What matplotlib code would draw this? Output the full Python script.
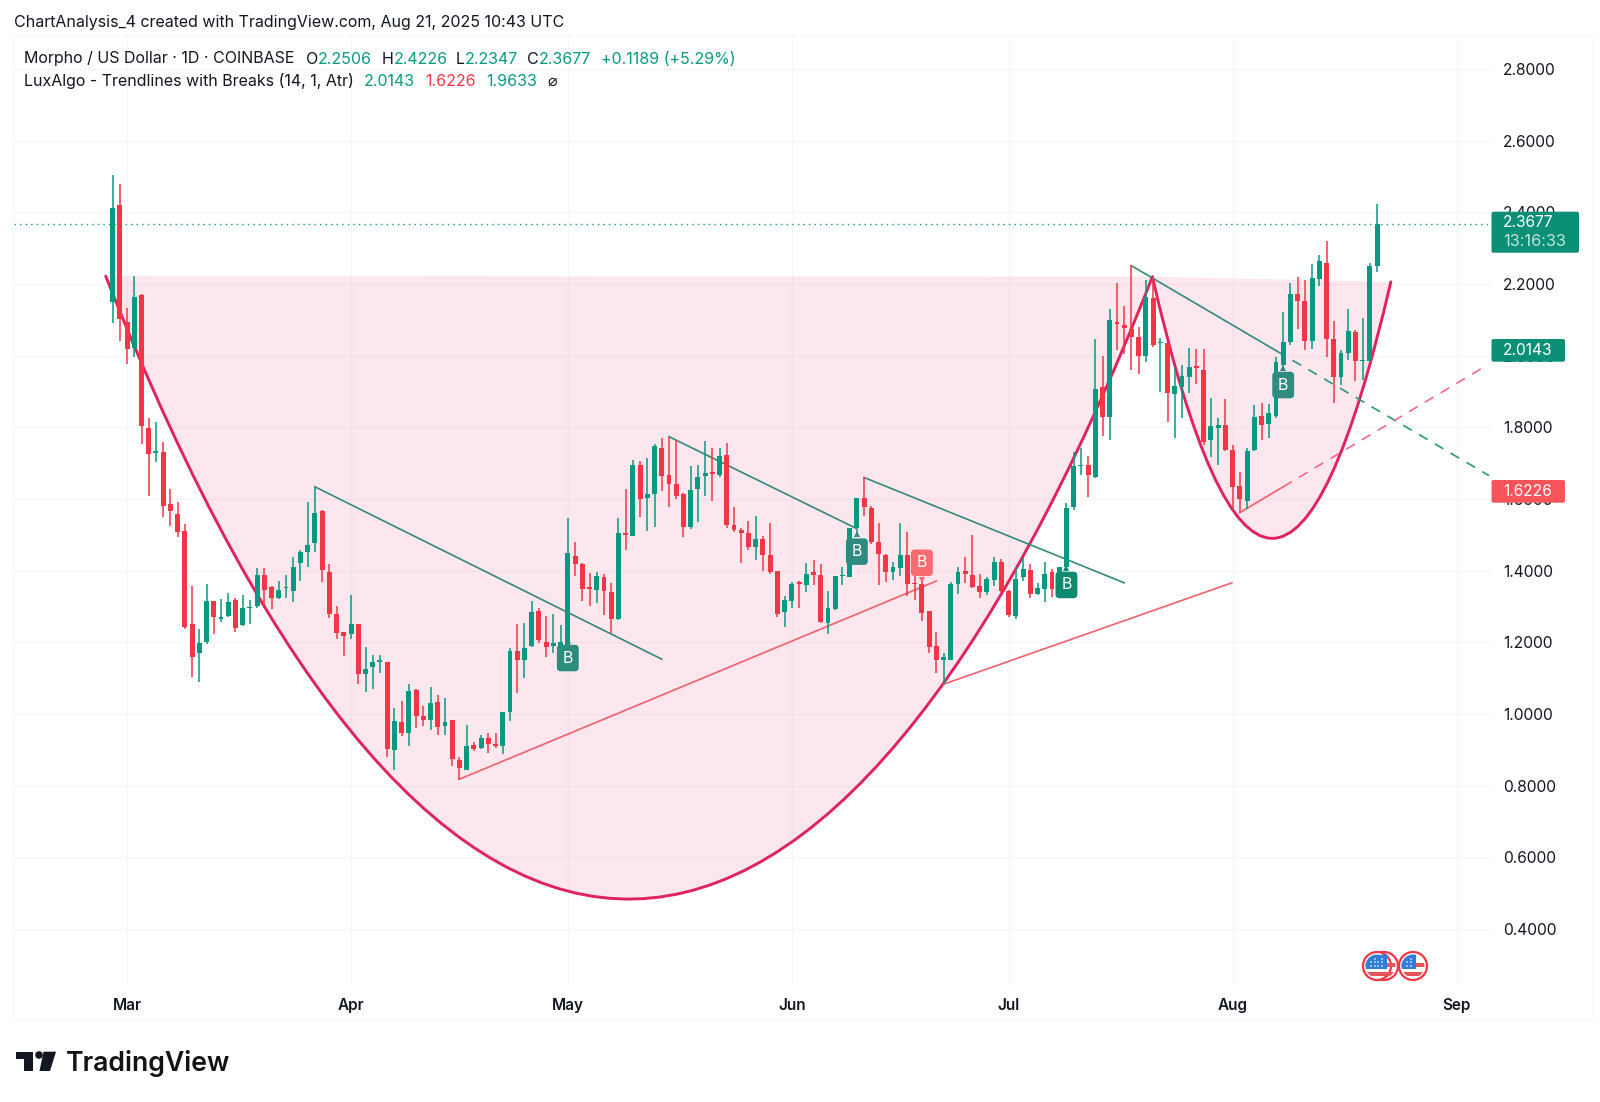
import numpy as np
import matplotlib
matplotlib.use('Agg')
import matplotlib.pyplot as plt
from matplotlib.patches import PathPatch, FancyBboxPatch, Circle, Rectangle, Polygon
from matplotlib.path import Path
from matplotlib.transforms import Affine2D

# Daily candles, 27 Feb 2025 is day 0
opens = [2.150, 2.421, 2.095, 2.020, 2.170, 1.798, 1.729, 1.731, 1.585, 1.559, 1.512, 1.250, 1.170, 1.200, 1.314, 1.266,
         1.273, 1.317, 1.248, 1.295, 1.300, 1.389, 1.355, 1.323, 1.351, 1.342, 1.421, 1.452, 1.476, 1.567, 1.397, 1.278,
         1.228, 1.222, 1.250, 1.112, 1.132, 1.146, 1.144, 0.899, 0.977, 0.948, 1.068, 0.994, 0.983, 1.033, 0.966, 0.982,
         0.871, 0.845, 0.914, 0.905, 0.934, 0.917, 0.910, 1.006, 1.175, 1.152, 1.190, 1.287, 1.201, 1.190, 1.188, 1.192,
         1.442, 1.419, 1.355, 1.346, 1.383, 1.340, 1.264, 1.502, 1.496, 1.696, 1.604, 1.614, 1.743, 1.667, 1.643, 1.613,
         1.523, 1.628, 1.664, 1.676, 1.666, 1.723, 1.527, 1.513, 1.506, 1.465, 1.488, 1.444, 1.399, 1.284, 1.315, 1.365,
         1.360, 1.395, 1.388, 1.255, 1.292, 1.385, 1.383, 1.518, 1.602, 1.576, 1.479, 1.443, 1.395, 1.406, 1.444, 1.364,
         1.362, 1.286, 1.190, 1.150, 1.152, 1.364, 1.399, 1.388, 1.357, 1.340, 1.374, 1.423, 1.344, 1.273, 1.383, 1.403,
         1.336, 1.350, 1.397, 1.374, 1.411, 1.578, 1.691, 1.695, 1.660, 1.913, 1.828, 2.095, 2.085, 2.073, 2.053, 2.000,
         2.162, 2.034, 2.036, 1.893, 1.913, 1.941, 1.971, 1.960, 1.765, 1.799, 1.806, 1.737, 1.636, 1.595, 1.737, 1.831,
         1.809, 1.831, 1.974, 2.039, 2.171, 2.152, 2.042, 2.214, 2.259, 2.046, 1.941, 2.008, 2.065, 1.985, 1.986, 2.2506]
highs = [2.504, 2.478, 2.134, 2.222, 2.172, 1.825, 1.816, 1.758, 1.627, 1.591, 1.529, 1.358, 1.238, 1.363, 1.315, 1.320,
         1.337, 1.325, 1.332, 1.317, 1.406, 1.406, 1.358, 1.372, 1.388, 1.439, 1.459, 1.591, 1.634, 1.569, 1.419, 1.300,
         1.230, 1.332, 1.252, 1.188, 1.165, 1.165, 1.146, 1.016, 1.037, 1.085, 1.069, 1.022, 1.076, 1.053, 1.045, 0.983,
         0.879, 0.969, 0.923, 0.941, 0.948, 0.948, 1.006, 1.183, 1.250, 1.253, 1.315, 1.297, 1.273, 1.279, 1.248, 1.548,
         1.479, 1.420, 1.394, 1.397, 1.390, 1.366, 1.548, 1.629, 1.709, 1.706, 1.713, 1.753, 1.769, 1.774, 1.764, 1.617,
         1.693, 1.696, 1.762, 1.741, 1.741, 1.755, 1.577, 1.518, 1.539, 1.552, 1.497, 1.532, 1.399, 1.330, 1.369, 1.372,
         1.422, 1.430, 1.418, 1.344, 1.386, 1.409, 1.518, 1.602, 1.660, 1.580, 1.532, 1.446, 1.425, 1.532, 1.507, 1.388,
         1.383, 1.288, 1.228, 1.171, 1.369, 1.411, 1.439, 1.499, 1.392, 1.383, 1.439, 1.432, 1.346, 1.411, 1.434, 1.418,
         1.366, 1.425, 1.404, 1.411, 1.590, 1.732, 1.741, 1.720, 2.046, 2.000, 2.130, 2.203, 2.138, 2.253, 2.081, 2.211,
         2.220, 2.048, 2.039, 1.969, 1.974, 2.020, 2.018, 2.018, 1.881, 1.827, 1.879, 1.751, 1.674, 1.741, 1.862, 1.869,
         1.865, 1.997, 2.121, 2.203, 2.220, 2.211, 2.256, 2.281, 2.321, 2.097, 2.017, 2.129, 2.071, 2.104, 2.259, 2.4226]
lows = [2.092, 2.042, 1.978, 1.996, 1.753, 1.609, 1.704, 1.551, 1.524, 1.494, 1.238, 1.102, 1.088, 1.195, 1.223, 1.258,
        1.272, 1.230, 1.246, 1.252, 1.297, 1.305, 1.293, 1.320, 1.325, 1.312, 1.372, 1.409, 1.452, 1.368, 1.268, 1.210,
        1.162, 1.208, 1.085, 1.060, 1.071, 1.113, 0.881, 0.845, 0.938, 0.911, 0.962, 0.967, 0.955, 0.941, 0.941, 0.856,
        0.816, 0.844, 0.897, 0.903, 0.890, 0.904, 0.888, 0.981, 1.059, 1.099, 1.188, 1.197, 1.160, 1.169, 1.183, 1.192,
        1.385, 1.316, 1.301, 1.311, 1.276, 1.225, 1.262, 1.457, 1.496, 1.549, 1.510, 1.521, 1.623, 1.578, 1.599, 1.495,
        1.515, 1.535, 1.609, 1.594, 1.660, 1.520, 1.507, 1.422, 1.457, 1.431, 1.399, 1.391, 1.270, 1.244, 1.297, 1.297,
        1.341, 1.360, 1.255, 1.222, 1.290, 1.360, 1.381, 1.493, 1.553, 1.474, 1.360, 1.367, 1.374, 1.386, 1.329, 1.318,
        1.260, 1.171, 1.113, 1.083, 1.150, 1.335, 1.366, 1.351, 1.325, 1.332, 1.357, 1.341, 1.270, 1.264, 1.372, 1.325,
        1.332, 1.313, 1.327, 1.355, 1.402, 1.569, 1.667, 1.606, 1.658, 1.777, 1.765, 2.016, 2.006, 1.960, 1.949, 1.983,
        2.025, 1.899, 1.816, 1.769, 1.825, 1.897, 1.921, 1.751, 1.716, 1.695, 1.735, 1.574, 1.562, 1.572, 1.735, 1.765,
        1.771, 1.825, 1.960, 2.030, 2.073, 2.017, 2.018, 2.194, 1.997, 1.867, 1.918, 1.988, 1.929, 1.932, 1.985, 2.2347]
closes = [2.413, 2.102, 2.018, 2.165, 1.803, 1.726, 1.732, 1.581, 1.567, 1.509, 1.243, 1.158, 1.197, 1.315, 1.270, 1.271,
          1.313, 1.240, 1.297, 1.299, 1.389, 1.345, 1.325, 1.347, 1.353, 1.411, 1.451, 1.471, 1.562, 1.403, 1.280, 1.227,
          1.217, 1.250, 1.112, 1.125, 1.145, 1.149, 0.901, 0.979, 0.946, 1.065, 0.994, 0.983, 1.032, 0.965, 0.977, 0.874,
          0.848, 0.911, 0.903, 0.932, 0.916, 0.912, 1.006, 1.176, 1.152, 1.185, 1.285, 1.206, 1.187, 1.198, 1.200, 1.450,
          1.419, 1.349, 1.349, 1.384, 1.342, 1.264, 1.504, 1.500, 1.694, 1.601, 1.614, 1.748, 1.664, 1.643, 1.608, 1.522,
          1.625, 1.662, 1.673, 1.670, 1.721, 1.527, 1.513, 1.505, 1.467, 1.488, 1.445, 1.397, 1.278, 1.318, 1.362, 1.363,
          1.391, 1.388, 1.257, 1.295, 1.386, 1.388, 1.518, 1.602, 1.577, 1.481, 1.446, 1.395, 1.409, 1.444, 1.363, 1.362,
          1.283, 1.186, 1.150, 1.160, 1.363, 1.396, 1.390, 1.355, 1.340, 1.377, 1.424, 1.343, 1.275, 1.377, 1.404, 1.336,
          1.352, 1.390, 1.348, 1.411, 1.576, 1.692, 1.693, 1.667, 1.907, 1.828, 2.099, 2.087, 2.076, 2.053, 2.000, 2.164,
          2.030, 2.037, 1.895, 1.915, 1.944, 1.969, 1.966, 1.758, 1.804, 1.806, 1.737, 1.634, 1.599, 1.735, 1.830, 1.806,
          1.839, 1.983, 2.037, 2.172, 2.153, 2.042, 2.218, 2.265, 2.046, 1.941, 2.008, 2.068, 1.985, 1.988, 2.250, 2.3677]

month_days = [2, 33, 63, 94, 124, 155, 186]
month_labels = ['Mar', 'Apr', 'May', 'Jun', 'Jul', 'Aug', 'Sep']
price_ticks = [0.4, 0.6, 0.8, 1.0, 1.2, 1.4, 1.6, 1.8, 2.0, 2.2, 2.4, 2.6, 2.8]

# Cup and handle curves: (day, price) of the end and control points
cup_days = [-0.95, 45.3, 99.7, 143.9]
cup_prices = [2.222, -0.147, -0.044, 2.220]
handle_days = [143.9, 160.4, 176.9]
handle_prices = [2.220, 0.767, 2.206]

# Trendlines (day, price)
green_lines = [([28, 76], [1.634, 1.153]), ([77, 102.8], [1.774, 1.519]),
               ([104, 140], [1.660, 1.366]), ([141, 161.1], [2.251, 2.013])]
green_dash = ([161.1, 190.5], [2.013, 1.665])
red_lines = [([48, 114], [0.818, 1.371]), ([115, 154.9], [1.083, 1.366]), ([156, 162], [1.562, 1.634])]
red_dash = ([162, 190.1], [1.634, 1.972])

# Break labels
break_days = [63, 103, 112, 132, 162]
break_prices = [1.156, 1.453, 1.422, 1.360, 1.918]
break_colors = ['#2C8C7E', '#2F8A80', '#F96B6E', '#0F8A72', '#2F8A80']

GREEN = '#089981'
RED = '#F23645'
CURVE = '#E0225E'
INK = '#131722'
GRID = '#F4F5F8'
FONT = 'Inter'

plt.rcParams['font.family'] = [FONT, 'DejaVu Sans']

fig = plt.figure(figsize=(16, 11.02), dpi=100)
px = Affine2D().scale(1, -1).translate(0, 1102)  # picture pixels, origin top left

# plot box 14..1490 x 35..984 in pixels
ax = fig.add_axes([14 / 1600, 1 - 984 / 1102, 1476 / 1600, 949 / 1102])
ax.set_xlim(-13.645, 190.62)
ax.set_ylim(0.2464, 2.8949)
for s in ax.spines.values():
    s.set_visible(False)
ax.set_xticks(month_days)
ax.set_xticklabels(month_labels, fontsize=11, fontweight='semibold', color=INK)
ax.yaxis.tick_right()
ax.set_yticks(price_ticks)
ax.set_yticklabels(['%.4f' % p for p in price_ticks], fontsize=11.2, color=INK)
ax.tick_params(axis='both', length=0)
ax.tick_params(axis='y', pad=9.5)
ax.tick_params(axis='x', pad=10)
ax.grid(True, color=GRID, linewidth=1)
ax.set_axisbelow(True)

# faint panel edge
fig.add_artist(Rectangle((13, 35), 1579, 985, facecolor='none', edgecolor='#F9F9FA', linewidth=1, transform=px))

# shaded cup and handle
cup_verts = list(zip(cup_days, cup_prices))
cup_codes = [Path.MOVETO, Path.CURVE4, Path.CURVE4, Path.CURVE4]
handle_verts = list(zip(handle_days, handle_prices))
handle_codes = [Path.MOVETO, Path.CURVE3, Path.CURVE3]
for verts, codes in [(cup_verts, cup_codes), (handle_verts, handle_codes)]:
    ax.add_patch(PathPatch(Path(verts + [verts[0]], codes + [Path.LINETO]), facecolor='#F5155F', alpha=0.1,
                           edgecolor='none', zorder=1))
    ax.add_patch(PathPatch(Path(verts, codes), facecolor='none', edgecolor=CURVE, linewidth=2.1, zorder=2,
                           capstyle='round'))

# trendlines
for xs, ys in green_lines:
    ax.plot(xs, ys, color='#35897A', linewidth=1.2, zorder=3)
for xs, ys in red_lines:
    ax.plot(xs, ys, color='#F0606E', linewidth=1.2, zorder=3)
ax.plot(*green_dash, color='#2E9582', linewidth=1.2, linestyle=(0, (6, 5)), zorder=3)
ax.plot(*red_dash, color='#EE6A85', linewidth=1.2, linestyle=(0, (6, 5)), zorder=3)

# candles
days = np.arange(len(opens))
o = np.array(opens)
h = np.array(highs)
l = np.array(lows)
c = np.array(closes)
colors = [GREEN if cl >= op else RED for op, cl in zip(o, c)]
ax.vlines(days, l, h, colors=colors, linewidth=1.1, zorder=4)
body = np.maximum(np.abs(c - o), 0.004)
ax.bar(days, body, bottom=np.minimum(o, c), width=0.68, color=colors, linewidth=0, zorder=5)

# last price line
ax.axhline(closes[-1], color=GREEN, linewidth=1, linestyle=(0, (1, 3)), zorder=3)

# break labels
for d, p, col in zip(break_days, break_prices, break_colors):
    up = col != '#F96B6E'
    ax.text(d, p, 'B', color='white', fontsize=11.5, ha='center', va='center', zorder=7,
            bbox=dict(boxstyle='round,pad=0.36,rounding_size=0.25', facecolor=col, edgecolor='none'))
    ax.plot([d], [p + (0.048 if up else -0.048)], marker='^' if up else 'v', markersize=5, color=col,
            markeredgewidth=0, zorder=6)


def ftext(x, y, s, **kw):
    kw.setdefault('fontsize', 11.5)
    kw.setdefault('color', INK)
    kw.setdefault('va', 'center')
    fig.text(x / 1600, 1 - y / 1102, s, **kw)


# header
ftext(13.5, 22, 'ChartAnalysis_4 created with TradingView.com, Aug 21, 2025 10:43 UTC')
ftext(24.5, 59, 'Morpho / US Dollar · 1D · COINBASE')
for x, s, col in [(306, 'O', INK), (318, '2.2506', GREEN), (381.5, 'H', INK), (393.5, '2.4226', GREEN),
                  (456, 'L', INK), (465, '2.2347', GREEN), (526.5, 'C', INK), (539, '2.3677', GREEN),
                  (601, '+0.1189 (+5.29%)', GREEN)]:
    ftext(x, 59, s, color=col)
ftext(24.5, 81, 'LuxAlgo - Trendlines with Breaks (14, 1, Atr)')
for x, s, col in [(364, '2.0143', GREEN), (425.5, '1.6226', RED), (486, '1.9633', GREEN), (547, '⌀', INK)]:
    ftext(x, 81, s, color=col)


# price labels on the axis
def price_box(y0, y1, x1, col):
    fig.add_artist(FancyBboxPatch((1492.5, y0 + 1), x1 - 1493.5, y1 - y0 - 2, boxstyle='round,pad=1,rounding_size=2',
                                  facecolor=col, edgecolor='none', transform=px, zorder=5))


price_box(211.7, 252.7, 1579, '#0B8F77')
ftext(1503, 222.5, '2.3677', color='white', fontsize=11.2, zorder=6)
ftext(1503, 242, '13:16:33', color='#BFE6DC', fontsize=11.8, zorder=6)
price_box(339, 361.7, 1565, '#0B8F77')
ftext(1503, 350.5, '2.0143', color='white', fontsize=11.2, zorder=6)
price_box(480, 502.7, 1565, '#F9545A')
ftext(1503, 491.5, '1.6226', color='white', fontsize=11.2, zorder=6)


# event flags
def flag(cx, cy, r=14):
    ring = Circle((cx, cy), r, facecolor='white', edgecolor=RED, linewidth=1.6, transform=px, zorder=5)
    fig.add_artist(ring)
    inner = Circle((cx, cy), r - 2.5, transform=px)
    for dy in (-3, 6):
        st = Rectangle((cx - r, cy + dy), 2 * r, 4, facecolor='#E8535A', edgecolor='none', transform=px, zorder=6)
        st.set_clip_path(inner)
        fig.add_artist(st)
    bl = Rectangle((cx - r, cy - r), r + 2.7, r + 3.3, facecolor='#2F7FD8', edgecolor='none', transform=px, zorder=7)
    bl.set_clip_path(inner)
    fig.add_artist(bl)
    for dx, dy in [(-6, -4), (-2, -4), (-6, 0), (-2, 0), (-2, -7)]:
        fig.add_artist(Circle((cx + dx, cy + dy), 0.8, facecolor='white', edgecolor='none', transform=px, zorder=8))


flag(1384, 966)
flag(1377, 966)
flag(1413, 966)

# logo
for pts in [[(16, 1051.7), (32.7, 1051.7), (32.7, 1071), (24, 1071), (24, 1059.3), (16, 1059.3)],
            [(43.5, 1051.7), (56, 1051.7), (50, 1071), (39.5, 1071)]]:
    fig.add_artist(Polygon(pts, closed=True, facecolor=INK, edgecolor='none', transform=px))
fig.add_artist(Circle((39, 1055), 3.8, facecolor=INK, edgecolor='none', transform=px))
ftext(65.5, 1063.5, 'TradingView', fontsize=19.2, fontweight='semibold', color='#131313')

fig.savefig('out.png', dpi=100)
